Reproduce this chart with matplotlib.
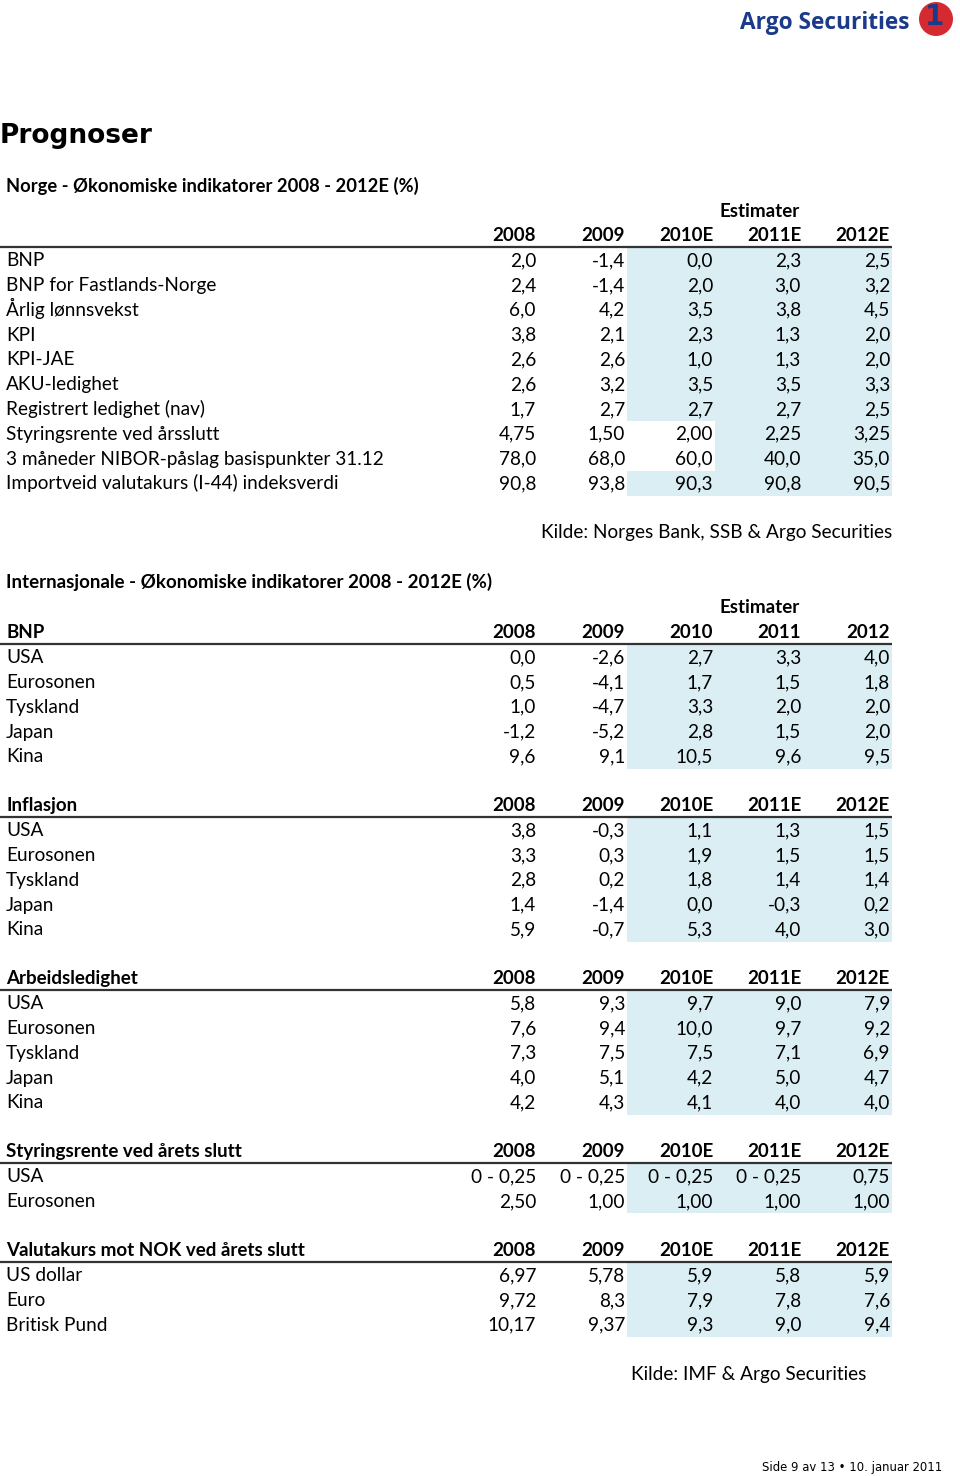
import matplotlib.pyplot as plt
from matplotlib.patches import Rectangle, Circle

# Norge table
norge_cols = ["2008", "2009", "2010E", "2011E", "2012E"]
norge_rows = ["BNP", "BNP for Fastlands-Norge", "Årlig lønnsvekst", "KPI", "KPI-JAE",
              "AKU-ledighet", "Registrert ledighet (nav)", "Styringsrente ved årsslutt",
              "3 måneder NIBOR-påslag basispunkter 31.12",
              "Importveid valutakurs (I-44) indeksverdi"]
norge_vals = [
    ["2,0", "-1,4", "0,0", "2,3", "2,5"],
    ["2,4", "-1,4", "2,0", "3,0", "3,2"],
    ["6,0", "4,2", "3,5", "3,8", "4,5"],
    ["3,8", "2,1", "2,3", "1,3", "2,0"],
    ["2,6", "2,6", "1,0", "1,3", "2,0"],
    ["2,6", "3,2", "3,5", "3,5", "3,3"],
    ["1,7", "2,7", "2,7", "2,7", "2,5"],
    ["4,75", "1,50", "2,00", "2,25", "3,25"],
    ["78,0", "68,0", "60,0", "40,0", "35,0"],
    ["90,8", "93,8", "90,3", "90,8", "90,5"],
]
# rows where the 2010E cell is not shaded
norge_unshaded_2010 = ["Styringsrente ved årsslutt", "3 måneder NIBOR-påslag basispunkter 31.12"]

# Internasjonale tables
land = ["USA", "Eurosonen", "Tyskland", "Japan", "Kina"]
bnp_cols = ["2008", "2009", "2010", "2011", "2012"]
bnp_vals = [
    ["0,0", "-2,6", "2,7", "3,3", "4,0"],
    ["0,5", "-4,1", "1,7", "1,5", "1,8"],
    ["1,0", "-4,7", "3,3", "2,0", "2,0"],
    ["-1,2", "-5,2", "2,8", "1,5", "2,0"],
    ["9,6", "9,1", "10,5", "9,6", "9,5"],
]
est_cols = ["2008", "2009", "2010E", "2011E", "2012E"]
infl_vals = [
    ["3,8", "-0,3", "1,1", "1,3", "1,5"],
    ["3,3", "0,3", "1,9", "1,5", "1,5"],
    ["2,8", "0,2", "1,8", "1,4", "1,4"],
    ["1,4", "-1,4", "0,0", "-0,3", "0,2"],
    ["5,9", "-0,7", "5,3", "4,0", "3,0"],
]
ledig_vals = [
    ["5,8", "9,3", "9,7", "9,0", "7,9"],
    ["7,6", "9,4", "10,0", "9,7", "9,2"],
    ["7,3", "7,5", "7,5", "7,1", "6,9"],
    ["4,0", "5,1", "4,2", "5,0", "4,7"],
    ["4,2", "4,3", "4,1", "4,0", "4,0"],
]
rente_rows = ["USA", "Eurosonen"]
rente_vals = [
    ["0 - 0,25", "0 - 0,25", "0 - 0,25", "0 - 0,25", "0,75"],
    ["2,50", "1,00", "1,00", "1,00", "1,00"],
]
valuta_rows = ["US dollar", "Euro", "Britisk Pund"]
valuta_vals = [
    ["6,97", "5,78", "5,9", "5,8", "5,9"],
    ["9,72", "8,3", "7,9", "7,8", "7,6"],
    ["10,17", "9,37", "9,3", "9,0", "9,4"],
]

FONT = "Lato"
shade = "#daeef3"
col_right = [536, 625, 713, 801, 890]
shade_left = 627
shade_right = 892
row_h = 24.8
fs = 13.7      # regular cell text
fsb = 13.5     # bold headers
base = 6.2     # baseline offset from row centre

fig = plt.figure(figsize=(9.6, 14.76), dpi=100)
ax = fig.add_axes([0, 0, 1, 1])
ax.set_xlim(0, 960)
ax.set_ylim(1476, 0)
ax.axis("off")


def txt(x, y, s, bold=False, ha="left", size=None):
    ax.text(x, y + base, s, fontsize=size or (fsb if bold else fs),
            fontweight="bold" if bold else "normal", family=FONT, va="baseline", ha=ha)


def header(y, label, cols):
    if label:
        txt(6, y, label, bold=True)
    for x, c in zip(col_right, cols):
        txt(x, y, c, bold=True, ha="right")
    ax.plot([0, 892], [y + 12, y + 12], color="#333333", lw=1.6, solid_capstyle="butt")


def rows(y0, names, vals, unshaded=()):
    for i, (n, v) in enumerate(zip(names, vals)):
        y = y0 + i * row_h
        left = 715 if n in unshaded else shade_left
        ax.add_patch(Rectangle((left, y - row_h / 2), shade_right - left, row_h,
                               facecolor=shade, edgecolor="none", zorder=0))
        txt(6, y, n)
        for x, s in zip(col_right, v):
            txt(x, y, s, ha="right")


# logo
ax.text(910, 29, "Argo Securities", fontsize=16.3, fontweight="bold", family="Open Sans",
        color="#1b3a8a", va="baseline", ha="right")
ax.add_patch(Circle((936, 19), 17, facecolor="#d42a30", edgecolor="none"))
ax.text(935, 17, "1", fontsize=20, fontweight="bold", family="DejaVu Sans",
        color="#1b3a8a", va="center", ha="center")

ax.text(0, 143, "Prognoser", fontsize=19, fontweight="bold", family="DejaVu Sans",
        va="baseline", ha="left")

# Norge
txt(6, 186, "Norge - Økonomiske indikatorer 2008 - 2012E (%)", bold=True, size=13.2)
txt(760, 211, "Estimater", bold=True, ha="center")
header(235, "", norge_cols)
rows(260, norge_rows, norge_vals, norge_unshaded_2010)
txt(892, 532, "Kilde: Norges Bank, SSB & Argo Securities", ha="right")

# Internasjonale
txt(6, 582, "Internasjonale - Økonomiske indikatorer 2008 - 2012E (%)", bold=True)
txt(760, 607, "Estimater", bold=True, ha="center")
header(632, "BNP", bnp_cols)
rows(657, land, bnp_vals)
header(805, "Inflasjon", est_cols)
rows(830, land, infl_vals)
header(978, "Arbeidsledighet", est_cols)
rows(1003, land, ledig_vals)
header(1151, "Styringsrente ved årets slutt", est_cols)
rows(1176, rente_rows, rente_vals)
header(1250, "Valutakurs mot NOK ved årets slutt", est_cols)
rows(1275, valuta_rows, valuta_vals)
txt(866, 1374, "Kilde: IMF & Argo Securities", ha="right")

ax.text(942, 1471, "Side 9 av 13 \u2022 10. januar 2011", fontsize=8.4, family="DejaVu Sans",
        va="baseline", ha="right")

fig.savefig("out.png", dpi=100)
